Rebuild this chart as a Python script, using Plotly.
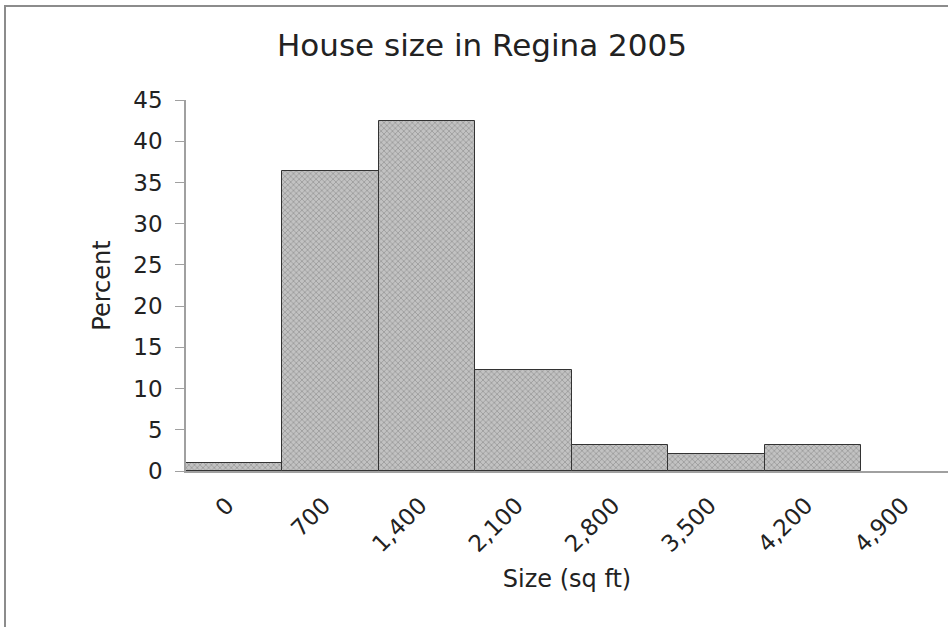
import plotly.graph_objects as go

categories = ["0", "700", "1,400", "2,100", "2,800", "3,500", "4,200", "4,900"]
percent = [1.0, 36.4, 42.4, 12.2, 3.1, 2.1, 3.1, 0]
y_ticks = [0, 5, 10, 15, 20, 25, 30, 35, 40, 45]

W, H = 948, 627
L, R, T, B = 186, 0, 100, 156
FONT = "DejaVu Sans"

fig = go.Figure(
    go.Bar(
        x=categories,
        y=percent,
        marker=dict(
            color="#b8b8b8",
            line=dict(color="#333333", width=[1 if v > 0 else 0 for v in percent]),
            pattern=dict(shape="x", size=4, fgcolor="#7a7a7a", bgcolor="#c2c2c2", solidity=0.4),
        ),
        width=1.0,
    )
)

pw = W - L - R
ph = H - T - B
def px(xp):
    return (xp - L) / pw
def py(yp):
    return (H - B - yp) / ph

fig.add_shape(type="rect", xref="paper", yref="paper",
              x0=px(5), x1=px(990), y0=py(660), y1=py(6),
              line=dict(color="#8c8c8c", width=2), fillcolor="rgba(0,0,0,0)", layer="below")

fig.update_layout(
    width=W, height=H,
    margin=dict(l=L, r=R, t=T, b=B, pad=0),
    paper_bgcolor="white", plot_bgcolor="white",
    bargap=0,
    showlegend=False,
    font=dict(family=FONT, color="#222222"),
    title=dict(text="House size in Regina 2005", font=dict(family=FONT, size=31, color="#222222"),
               xref="container", yref="container", x=482 / W, y=1 - 45 / H,
               xanchor="center", yanchor="middle"),
    xaxis=dict(
        type="category",
        range=[-0.5, 7.4],
        showline=True, linecolor="#a0a0a0", linewidth=1.5,
        ticks="", tickangle=-45,
        tickfont=dict(family=FONT, size=23, color="#222222"),
        ticklabelstandoff=10,
        ticklabelshift=-7,
        showgrid=False,
        title=dict(text="Size (sq ft)", font=dict(family=FONT, size=24, color="#222222"), standoff=14),
    ),
    yaxis=dict(
        range=[0, 45],
        tickvals=y_ticks,
        showline=True, linecolor="#a0a0a0", linewidth=1.5,
        ticks="outside", ticklen=9, tickcolor="#a0a0a0",
        tickfont=dict(family=FONT, size=23, color="#222222"),
        ticklabelstandoff=8,
        showgrid=False, zeroline=False,
        title=dict(text="Percent", font=dict(family=FONT, size=24, color="#222222"), standoff=16),
    ),
)

fig.write_html("out.html")
